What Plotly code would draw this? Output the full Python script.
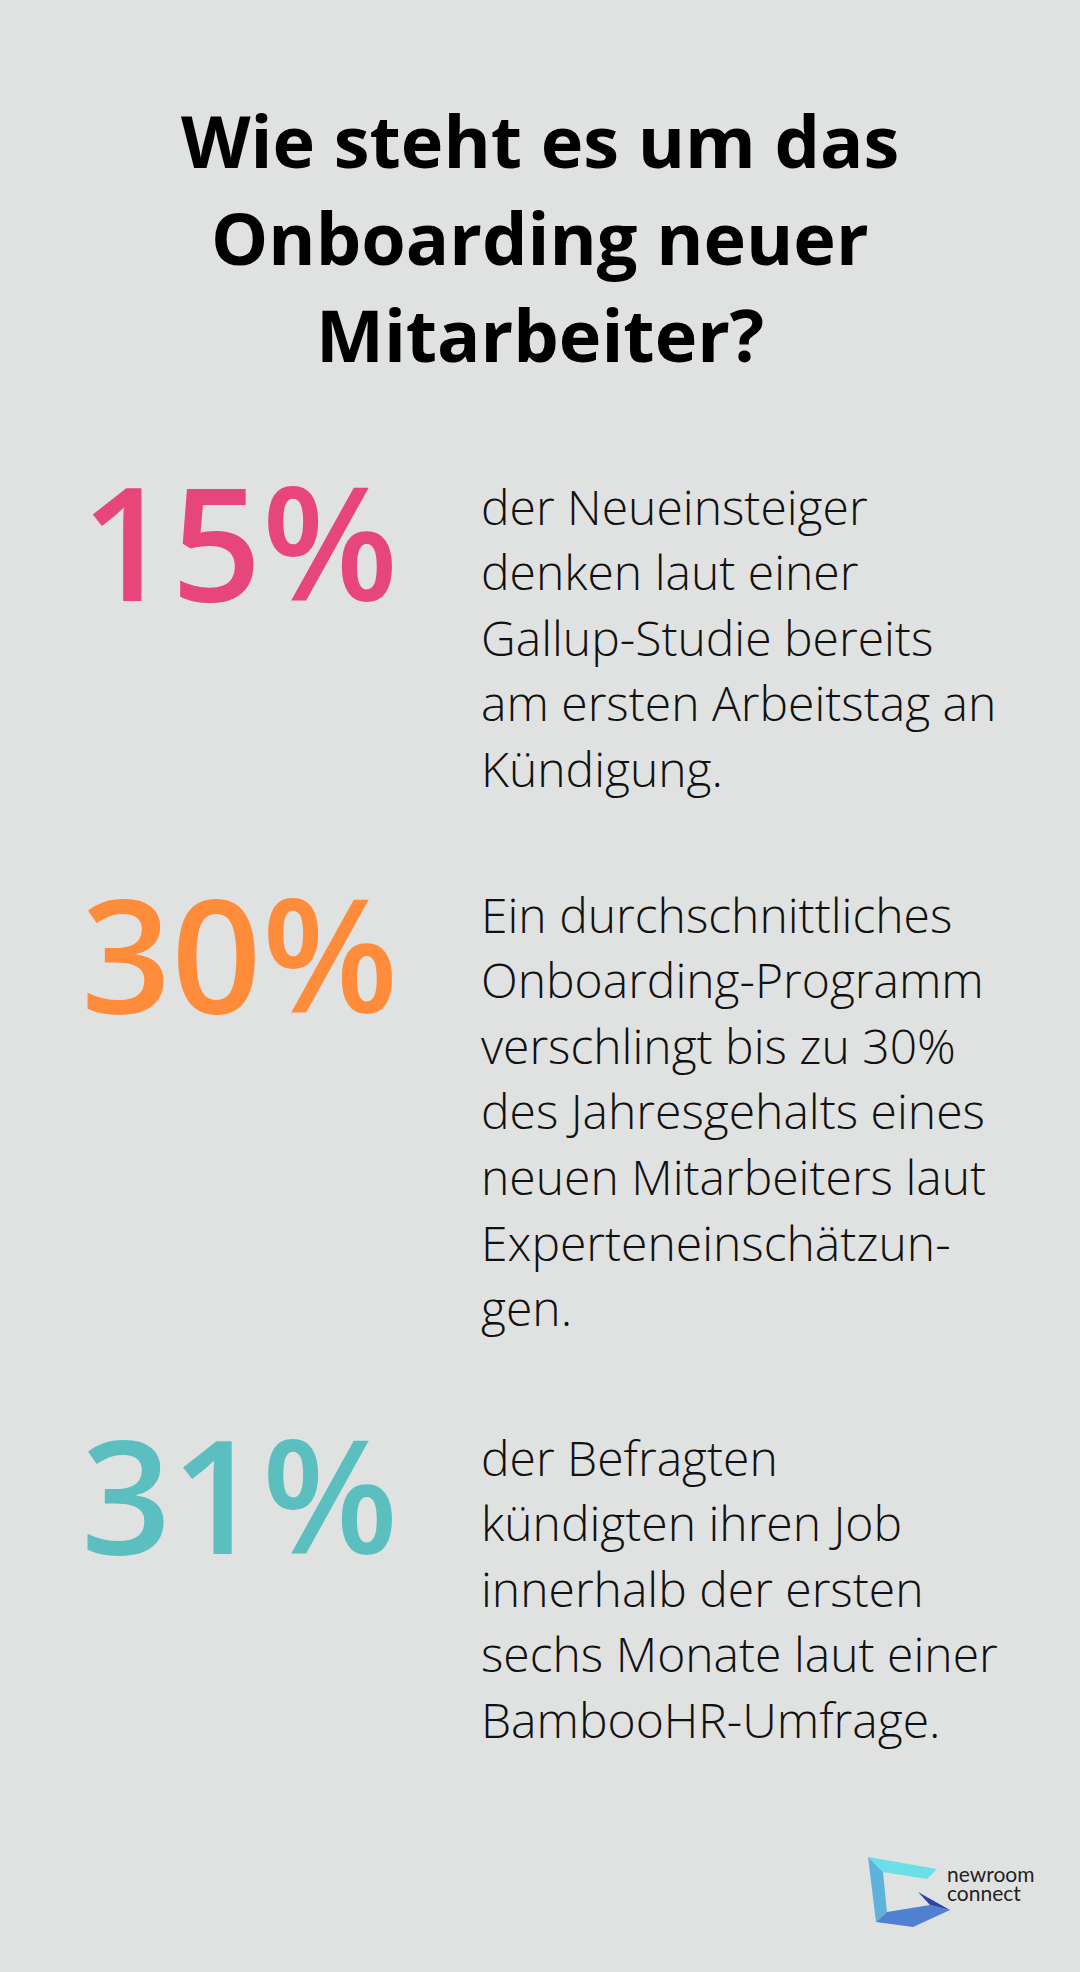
import plotly.graph_objects as go

# ---- data ----
title_lines = ["Wie steht es um das", "Onboarding neuer", "Mitarbeiter?"]
stat_values = [15, 30, 31]
stat_colors = ["#E6467A", "#FF8C3A", "#5CBFBF"]
stat_texts = [
    ["der Neueinsteiger", "denken laut einer", "Gallup-Studie bereits",
     "am ersten Arbeitstag an", "Kündigung."],
    ["Ein durchschnittliches", "Onboarding-Programm", "verschlingt bis zu 30%",
     "des Jahresgehalts eines", "neuen Mitarbeiters laut",
     "Experteneinschätzun-", "gen."],
    ["der Befragten", "kündigten ihren Job", "innerhalb der ersten",
     "sechs Monate laut einer", "BambooHR-Umfrage."],
]
brand_lines = ["newroom", "connect"]

# ---- layout constants ----
W, H = 1080, 1972
BG = "#E0E2E1"
title_y0, title_dy = 140, 97
num_x = 80
num_y = [539, 951, 1492]
txt_x = 480
txt_y0 = [506, 914, 1457]
txt_dy = 65.6

fig = go.Figure()
anns = []
for i, t in enumerate(title_lines):
    anns.append(dict(x=W / 2, y=title_y0 + i * title_dy, text=t, showarrow=False,
                     xanchor="center", yanchor="middle",
                     font=dict(family="Open Sans", size=72, color="#000000", weight=700)))

for k, v in enumerate(stat_values):
    anns.append(dict(x=num_x, y=num_y[k], text=f"{v}%", showarrow=False,
                     xanchor="left", yanchor="middle", borderpad=0,
                     font=dict(family="Open Sans", size=158, color=stat_colors[k], weight=600)))
    for j, line in enumerate(stat_texts[k]):
        anns.append(dict(x=txt_x, y=txt_y0[k] + j * txt_dy, text=line, showarrow=False,
                         xanchor="left", yanchor="middle", borderpad=0,
                         font=dict(family="Open Sans", size=48, color="#111111", weight=300)))

for i, t in enumerate(brand_lines):
    anns.append(dict(x=946, y=1873 + i * 19, text=t, showarrow=False,
                     xanchor="left", yanchor="middle", borderpad=0,
                     font=dict(family="Lato", size=21, color="#222222", weight=400)))

# logo shapes
def poly(pts, color):
    p = "M " + " L ".join(f"{x},{y}" for x, y in pts) + " Z"
    return dict(type="path", path=p, xref="x", yref="y", fillcolor=color,
                line=dict(width=0), layer="above")

shapes = [
    poly([(868, 1857), (937, 1869), (927, 1879), (883, 1872)], "#6ADFE7"),
    poly([(868, 1857), (883, 1872), (887, 1912), (876, 1922)], "#5EB3DC"),
    poly([(876, 1922), (887, 1912), (930, 1905), (950, 1910), (913, 1927)], "#4F80D2"),
    poly([(918, 1892), (950, 1910), (930, 1905)], "#2C46A2"),
]

fig.update_layout(
    width=W, height=H, margin=dict(l=0, r=0, t=0, b=0),
    paper_bgcolor=BG, plot_bgcolor=BG,
    xaxis=dict(range=[0, W], visible=False, fixedrange=True),
    yaxis=dict(range=[H, 0], visible=False, fixedrange=True),
    annotations=anns, shapes=shapes, showlegend=False,
)
fig.write_html("out.html", config=dict(displayModeBar=False),
               post_script="document.body.style.margin='0';document.body.style.background='#E0E2E1';")
